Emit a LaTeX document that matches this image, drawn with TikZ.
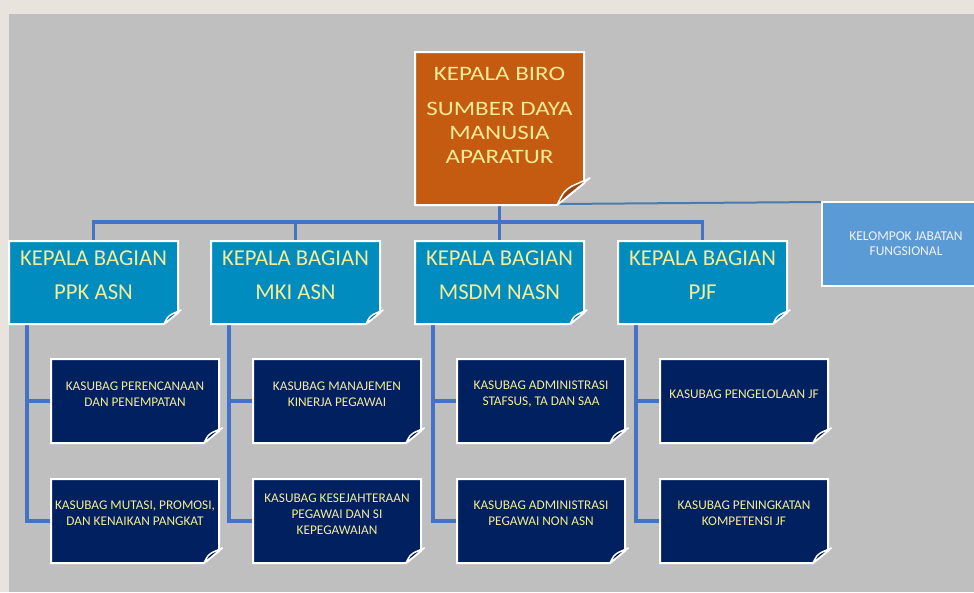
\documentclass[tikz,border=0pt]{standalone}
\usepackage{fontspec}
\setmainfont{Carlito}
\newfontfamily\widefont[FakeStretch=1.22]{Carlito}
\usetikzlibrary{calc}
\definecolor{bgouter}{HTML}{E8E4DD}
\definecolor{panel}{HTML}{BFBFBF}
\definecolor{orangebox}{HTML}{C55A11}
\definecolor{orangeflap}{HTML}{9A450E}
\definecolor{bluebox}{HTML}{008CBF}
\definecolor{blueflap}{HTML}{006C94}
\definecolor{navybox}{HTML}{002060}
\definecolor{navyflap}{HTML}{00143F}
\definecolor{kelbox}{HTML}{5B9BD5}
\definecolor{connblue}{HTML}{4472C4}
\definecolor{klineblue}{HTML}{4A7AAE}
\definecolor{txtyellow}{HTML}{F6EC96}
\definecolor{kelbtxt}{HTML}{F2F2F2}
\newcommand\foldbox[4]{%
  \filldraw[fill=#3, draw=white, line width=2pt]
    (#1.north west) -- (#1.north east) -- ($(#1.south east)+(0,-0.8*#2)$)
    -- ($(#1.south east)+(-#2,0)$) -- (#1.south west) -- cycle;
  \filldraw[fill=#4, draw=white, line width=1.5pt, line join=round]
    ($(#1.south east)+(-#2,0)$) .. controls ($(#1.south east)+(-0.75*#2,-0.5*#2)$) ..
    ($(#1.south east)+(-0.45*#2,-0.7*#2)$) -- ($(#1.south east)+(0.22*#2,-#2)$) -- cycle;
}
\begin{document}
\begin{tikzpicture}[x=1pt,y=-1pt,
  conn/.style={draw=connblue, line width=3.5pt},
  kline/.style={draw=klineblue, line width=2pt},
  slot/.style={rectangle, inner sep=0pt, outer sep=0pt},
  topslot/.style={slot, minimum width=169pt, minimum height=153pt},
  l2slot/.style={slot, minimum width=169pt, minimum height=83pt},
  l3slot/.style={slot, minimum width=168pt, minimum height=84pt},
  toptxt/.style={text=txtyellow, align=center, inner sep=0pt, font=\widefont\fontsize{20.5}{24}\selectfont},
  l2txt/.style={text=txtyellow, align=center, inner sep=0pt, font=\fontsize{22.7}{34}\selectfont},
  l3txt/.style={text=txtyellow, align=center, inner sep=0pt, font=\fontsize{13.3}{16}\selectfont},
  keltxt/.style={text=kelbtxt, align=center, inner sep=0pt, font=\fontsize{13.5}{15}\selectfont}]
\fill[bgouter] (0,0) rectangle (974,592);
\useasboundingbox (0,0) rectangle (974,592);
\fill[panel] (9,14) rectangle (974,592);

% slots
\node[topslot] (top) at (499.5,128.5) {};
\node[l2slot] (b1) at (93.5,282.5) {};
\node[l2slot] (b2) at (295.5,282.5) {};
\node[l2slot] (b3) at (499.5,282.5) {};
\node[l2slot] (b4) at (702.5,282.5) {};
\node[l3slot] (c11) at (135,401) {};
\node[l3slot] (c12) at (135,521) {};
\node[l3slot] (c21) at (337,401) {};
\node[l3slot] (c22) at (337,521) {};
\node[l3slot] (c31) at (541,401) {};
\node[l3slot] (c32) at (541,521) {};
\node[l3slot] (c41) at (744,401) {};
\node[l3slot] (c42) at (744,521) {};
\node[slot, minimum width=168pt, minimum height=84pt] (kel) at (906,244) {};

% connectors
\coordinate (hub) at (499.5,222);
\draw[conn] (top.south) -- (hub);
\draw[conn] (b1.north) |- (hub) -| (b4.north);
\draw[conn] (b2.north) -- (b2.north |- hub);
\draw[conn] (b3.north) -- (hub);
\coordinate (k0) at ($(top.south east)+(-26,-1)$);
\draw[kline] (k0) -- (kel.north west);
\foreach \b/\c in {b1/c1, b2/c2, b3/c3, b4/c4}{
  \coordinate (v\b) at ($(\b.south west)+(18,0)$);
  \draw[conn] (v\b) |- (\c2.west);
  \draw[conn] (v\b |- \c1.west) -- (\c1.west);
}

% boxes
\foldbox{top}{27}{orangebox}{orangeflap}
\foreach \n in {b1,b2,b3,b4}{\foldbox{\n}{14}{bluebox}{blueflap}}
\foreach \n in {c11,c12,c21,c22,c31,c32,c41,c42}{\foldbox{\n}{15}{navybox}{navyflap}}
\filldraw[fill=kelbox, draw=white, line width=2pt] (kel.north west) rectangle (kel.south east);

% texts
\node[toptxt] (ttop) at ($(top)+(0,-13)$) {KEPALA BIRO\\[11pt]SUMBER DAYA\\MANUSIA\\APARATUR};
\node[l2txt] (tb1) at ($(b1)+(0,-7.5)$) {KEPALA BAGIAN\\PPK ASN};
\node[l2txt] (tb2) at ($(b2)+(0,-7.5)$) {KEPALA BAGIAN\\MKI ASN};
\node[l2txt] (tb3) at ($(b3)+(0,-7.5)$) {KEPALA BAGIAN\\MSDM NASN};
\node[l2txt] (tb4) at ($(b4)+(0,-7.5)$) {KEPALA BAGIAN\\PJF};
\node[l3txt] (tc11) at ($(c11)+(0,-7)$) {KASUBAG PERENCANAAN\\DAN PENEMPATAN};
\node[l3txt] (tc12) at ($(c12)+(0,-8)$) {KASUBAG MUTASI, PROMOSI,\\DAN KENAIKAN PANGKAT};
\node[l3txt] (tc21) at ($(c21)+(0,-7)$) {KASUBAG MANAJEMEN\\KINERJA PEGAWAI};
\node[l3txt] (tc22) at ($(c22)+(0,-7)$) {KASUBAG KESEJAHTERAAN\\PEGAWAI DAN SI\\KEPEGAWAIAN};
\node[l3txt] (tc31) at ($(c31)+(0,-7)$) {KASUBAG ADMINISTRASI\\STAFSUS, TA DAN SAA};
\node[l3txt] (tc32) at ($(c32)+(0,-8)$) {KASUBAG ADMINISTRASI\\PEGAWAI NON ASN};
\node[l3txt] (tc41) at ($(c41)+(0,-7)$) {KASUBAG PENGELOLAAN JF};
\node[l3txt] (tc42) at ($(c42)+(0,-8)$) {KASUBAG PENINGKATAN\\KOMPETENSI JF};
\node[keltxt] (tkel) at (kel) {KELOMPOK JABATAN\\FUNGSIONAL};
\end{tikzpicture}
\end{document}
